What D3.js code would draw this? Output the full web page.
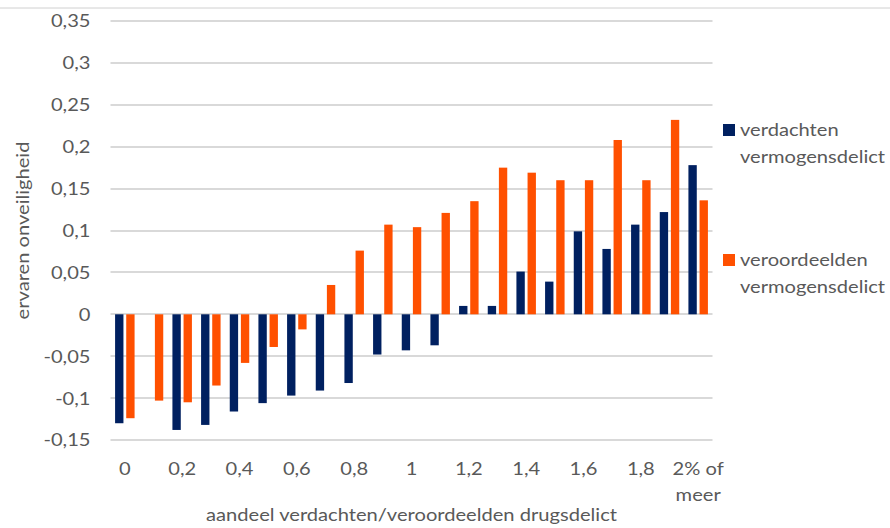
<!DOCTYPE html>
<html><head><meta charset="utf-8">
<script src="https://cdn.jsdelivr.net/npm/d3@7"></script>
<style>
body{margin:0;background:#fff}
svg{display:block}
text{font-family:Lato, "Open Sans", sans-serif; fill:#595959}
</style>
</head><body>
<svg id="c" width="890" height="528"></svg>
<script>
const categories = ["0","0,1","0,2","0,3","0,4","0,5","0,6","0,7","0,8","0,9","1","1,1","1,2","1,3","1,4","1,5","1,6","1,7","1,8","1,9","2% of meer"];
const xTickLabels = ["0","","0,2","","0,4","","0,6","","0,8","","1","","1,2","","1,4","","1,6","","1,8","","2% of|meer"];
const seriesNames = ["verdachten vermogensdelict","veroordeelden vermogensdelict"];
const legendLines = [["verdachten","vermogensdelict"],["veroordeelden","vermogensdelict"]];
const verdachten = [-0.130, null, -0.138, -0.132, -0.116, -0.106, -0.097, -0.091, -0.082, -0.048, -0.043, -0.037, 0.010, 0.010, 0.051, 0.039, 0.099, 0.078, 0.107, 0.122, 0.178];
const veroordeelden = [-0.124, -0.103, -0.105, -0.085, -0.058, -0.039, -0.018, 0.035, 0.076, 0.107, 0.104, 0.121, 0.135, 0.175, 0.169, 0.160, 0.160, 0.208, 0.160, 0.232, 0.136];
const yTicks = [-0.15,-0.1,-0.05,0,0.05,0.1,0.15,0.2,0.25,0.3,0.35];
const yTickLabels = ["-0,15","-0,1","-0,05","0","0,05","0,1","0,15","0,2","0,25","0,3","0,35"];
const axisTitleX = "aandeel verdachten/veroordeelden drugsdelict";
const axisTitleY = "ervaren onveiligheid";

const colors = ["#002060","#FF5000"];
const FS = 16.5, SX = 1.22;
const svg = d3.select("#c");
const L = 110.5, R = 712.5, T = 21, B = 440;

// top border line
svg.append("line").attr("x1",0).attr("x2",890).attr("y1",8).attr("y2",8)
  .attr("stroke","#d0d0d0").attr("stroke-width",1);

const y = d3.scaleLinear().domain([-0.15,0.35]).range([B,T]);
const x = d3.scaleBand().domain(categories).range([L,R]).paddingInner(0.32).paddingOuter(0.16);
const xs = d3.scaleBand().domain([0,1]).range([0,x.bandwidth()]).paddingInner(0.25);

function stretch(sel){
  sel.each(function(){
    const t = d3.select(this);
    const xx = +t.attr("x") || 0;
    t.attr("x", xx/SX).attr("transform", `scale(${SX},1)`);
  });
}

// gridlines
svg.append("g").selectAll("line").data(yTicks).join("line")
  .attr("x1",L).attr("x2",R).attr("y1",d=>Math.round(y(d))).attr("y2",d=>Math.round(y(d)))
  .attr("stroke","#d9d9d9").attr("stroke-width",2);

// y axis
const gy = svg.append("g").attr("transform",`translate(${L},0)`)
  .call(d3.axisLeft(y).tickValues(yTicks).tickSize(0).tickPadding(20).tickFormat((d,i)=>yTickLabels[i]));
gy.select(".domain").remove();
gy.selectAll("text").attr("font-size",FS).attr("dy","0.36em").call(stretch);
gy.attr("font-family",null);

// bars
const series = [verdachten, veroordeelden];
const groups = svg.append("g").selectAll("g").data(categories).join("g")
  .attr("transform",d=>`translate(${x(d)},0)`);
groups.selectAll("rect").data((d,i)=>series.map((s,k)=>({k,v:s[i]})).filter(o=>o.v!==null)).join("rect")
  .attr("x",o=>xs(o.k)).attr("width",xs.bandwidth())
  .attr("y",o=>Math.min(y(o.v),y(0)))
  .attr("height",o=>Math.abs(y(o.v)-y(0)))
  .attr("fill",o=>colors[o.k]);

// x axis
const gx = svg.append("g").attr("transform",`translate(0,${B})`)
  .call(d3.axisBottom(x).tickSize(0).tickPadding(23).tickFormat((d,i)=>xTickLabels[i]));
gx.select(".domain").remove();
gx.attr("font-family",null);
gx.selectAll("text").attr("font-size",FS).each(function(){
  const t = d3.select(this);
  const s = t.text();
  if (s.includes("|")){
    const parts = s.split("|");
    t.text(null);
    parts.forEach((p,j)=>t.append("tspan").attr("x",0).attr("dy", j===0 ? "0.71em" : "1.62em").text(p));
    t.attr("dy",null);
  }
}).call(stretch);

// axis titles
svg.append("text").attr("font-size",FS).attr("text-anchor","middle")
  .attr("transform",`translate(${(L+R)/2},521) scale(${SX},1)`).text(axisTitleX);
svg.append("text").attr("font-size",FS).attr("text-anchor","middle")
  .attr("transform",`translate(28.5,${(T+B)/2}) rotate(-90) scale(${SX},1)`).text(axisTitleY);

// legend
const lg = svg.append("g").selectAll("g").data(seriesNames).join("g")
  .attr("transform",(d,i)=>`translate(723,${i===0?124:254})`);
lg.append("rect").attr("width",12).attr("height",12).attr("fill",(d,i)=>colors[i]);
lg.each(function(d,i){
  const g = d3.select(this);
  legendLines[i].forEach((ln,j)=>{
    g.append("text").attr("font-size",FS)
      .attr("transform",`translate(17,${12 + j*26.7}) scale(${SX},1)`).text(ln);
  });
});
</script>
</body></html>
